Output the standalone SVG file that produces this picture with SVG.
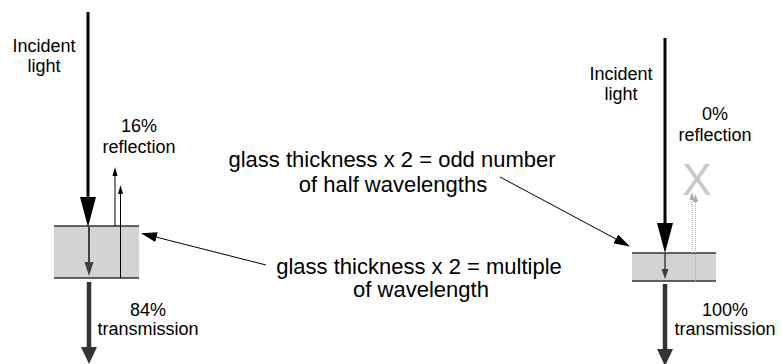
<svg xmlns="http://www.w3.org/2000/svg" width="781" height="364" viewBox="0 0 781 364">
<style>
text{font-family:"Liberation Sans",Arial,sans-serif;fill:#000}
.s{font-size:18px;text-anchor:middle}
.m{font-size:22px;text-anchor:middle}
.glass{fill:#d3d3d3}
.edge{stroke:#333;stroke-width:1.5}
</style>
<defs>
<marker id="call" markerWidth="16" markerHeight="10" refX="15" refY="5" orient="auto" markerUnits="userSpaceOnUse"><path d="M0,0 L16,5 L0,10 Z" fill="#000"/></marker>
</defs>
<rect width="781" height="364" fill="#fff"/>
<g id="left-glass">
<rect class="glass" x="54" y="226" width="85" height="52"/>
<line class="edge" x1="54" y1="226" x2="139" y2="226"/>
<line class="edge" x1="54" y1="278" x2="139" y2="278"/>
</g>
<g id="right-glass">
<rect class="glass" x="632" y="253" width="84" height="28"/>
<line class="edge" x1="632" y1="253" x2="716" y2="253"/>
<line class="edge" x1="632" y1="281" x2="716" y2="281"/>
</g>
<g id="connectors">
<!-- left incident -->
<line x1="88" y1="12" x2="88" y2="200" stroke="#000" stroke-width="3"/>
<path d="M80,197 L96,197 L88,227 Z" fill="#000"/>
<!-- left inside -->
<line x1="89" y1="227" x2="89" y2="264" stroke="#404040" stroke-width="2"/>
<path d="M84.5,262 L93.5,262 L89,276 Z" fill="#404040"/>
<!-- left reflections -->
<line x1="115" y1="226" x2="115" y2="174" stroke="#000" stroke-width="1"/>
<path d="M112.5,176 L117.5,176 L115,167 Z" fill="#000"/>
<line x1="120.5" y1="278" x2="120.5" y2="192" stroke="#000" stroke-width="1"/>
<path d="M118,194 L123,194 L120.5,185 Z" fill="#000"/>
<!-- left transmission -->
<line x1="89" y1="282" x2="89" y2="350" stroke="#333" stroke-width="4.5"/>
<path d="M81,347 L97,347 L89,364 Z" fill="#333"/>
<!-- right incident -->
<line x1="665" y1="38" x2="665" y2="226" stroke="#000" stroke-width="3"/>
<path d="M657,223 L673,223 L665,253 Z" fill="#000"/>
<!-- right inside -->
<line x1="665" y1="253" x2="665" y2="270" stroke="#404040" stroke-width="1.5"/>
<path d="M661.5,269 L668.5,269 L665,279 Z" fill="#404040"/>
<!-- right reflections (dotted) -->
<line x1="692" y1="253" x2="692" y2="198" stroke="#aaa" stroke-width="1" stroke-dasharray="1,1"/>
<path d="M689.5,200 L694.5,200 L692,192 Z" fill="#aaa"/>
<line x1="695.5" y1="281" x2="695.5" y2="200" stroke="#aaa" stroke-width="1" stroke-dasharray="1,1"/>
<path d="M693,202 L698,202 L695.5,194 Z" fill="#aaa"/>
<!-- right transmission -->
<line x1="665" y1="284" x2="665" y2="352" stroke="#333" stroke-width="4.5"/>
<path d="M657,349 L673,349 L665,366 Z" fill="#333"/>
<!-- callouts -->
<line x1="266" y1="265" x2="142" y2="233.5" stroke="#000" stroke-width="1" marker-end="url(#call)"/>
<line x1="500" y1="177" x2="629" y2="246" stroke="#000" stroke-width="1" marker-end="url(#call)"/>
</g>
<g id="labels">
<text class="s" x="44" y="52">Incident</text>
<text class="s" x="44" y="72">light</text>
<text class="s" x="139" y="132">16%</text>
<text class="s" x="139" y="153">reflection</text>
<text class="s" x="148" y="316">84%</text>
<text class="s" x="148" y="335">transmission</text>
<text class="s" x="621" y="80">Incident</text>
<text class="s" x="621" y="100">light</text>
<text class="s" x="715" y="120">0%</text>
<text class="s" x="715" y="141">reflection</text>
<text class="s" x="725" y="316">100%</text>
<text class="s" x="725" y="335">transmission</text>
<text x="697" y="195" style="font-size:44px;text-anchor:middle;fill:#c8c8c8">X</text>
<text class="m" x="392" y="167">glass thickness x 2 = odd number</text>
<text class="m" x="393" y="192">of half wavelengths</text>
<text class="m" x="419" y="274">glass thickness x 2 = multiple</text>
<text class="m" x="421" y="297">of wavelength</text>
</g>
</svg>
